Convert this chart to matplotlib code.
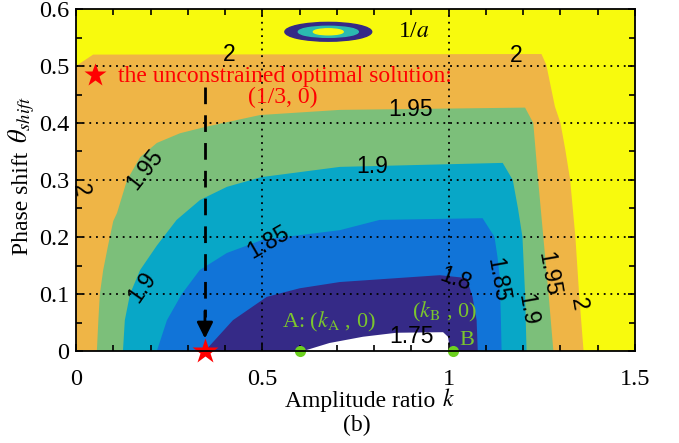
import matplotlib
matplotlib.use('Agg')
import matplotlib.pyplot as plt
from matplotlib.patches import Ellipse
from matplotlib.ticker import MultipleLocator

plt.rcParams['font.family'] = ['Liberation Serif', 'DejaVu Serif']
plt.rcParams['mathtext.fontset'] = 'stix'

# ---------------- data ----------------
levels = [2.0, 1.95, 1.9, 1.85, 1.8, 1.75]
band_colors = ['#EFB546', '#7CBF7A', '#08A7C7', '#1174D8', '#352A87', '#FFFFFF']
bg_color = '#F8FA0D'

# boundaries of the region where the function is below each level
b200_x = [0, 0, 0.046, 1.249, 1.262, 1.285, 1.300, 1.313, 1.326, 1.340, 1.350, 1.362]
b200_y = [0, 0.500, 0.520, 0.521, 0.502, 0.429, 0.400, 0.353, 0.300, 0.200, 0.100, 0]
b195_x = [0.056, 0.060, 0.064, 0.073, 0.086, 0.100, 0.110, 0.137, 0.172, 0.217, 0.279,
          0.346, 0.494, 0.708, 1.205, 1.227, 1.240, 1.254, 1.268, 1.281]
b195_y = [0, 0.054, 0.100, 0.142, 0.185, 0.228, 0.242, 0.300, 0.340, 0.365, 0.382,
          0.393, 0.414, 0.423, 0.427, 0.400, 0.300, 0.200, 0.100, 0]
b190_x = [0.126, 0.131, 0.145, 0.172, 0.217, 0.270, 0.333, 0.405, 0.497, 0.708, 1.145,
          1.172, 1.186, 1.198, 1.205, 1.209]
b190_y = [0, 0.054, 0.100, 0.142, 0.185, 0.230, 0.265, 0.288, 0.305, 0.323, 0.330,
          0.300, 0.250, 0.200, 0.100, 0]
b185_x = [0.217, 0.244, 0.284, 0.332, 0.405, 0.500, 0.708, 0.815, 1.091, 1.123, 1.131,
          1.137, 1.140, 1.142]
b185_y = [0, 0.054, 0.100, 0.142, 0.172, 0.195, 0.212, 0.230, 0.233, 0.200, 0.165,
          0.130, 0.060, 0]
b180_x = [0.346, 0.421, 0.512, 0.600, 0.708, 0.976, 1.048, 1.064, 1.075, 1.078]
b180_y = [0, 0.054, 0.095, 0.110, 0.121, 0.133, 0.128, 0.095, 0.054, 0]
b175_x = [0.600, 0.620, 0.680, 0.770, 0.860, 0.985, 0.998, 1.003, 1.016]
b175_y = [0, 0.002, 0.014, 0.025, 0.032, 0.033, 0.025, 0.005, 0]
bounds_x = [b200_x, b195_x, b190_x, b185_x, b180_x, b175_x]
bounds_y = [b200_y, b195_y, b190_y, b185_y, b180_y, b175_y]

# contour labels
lab_text = ['2', '2', '2', '1.95', '1.95', '1.9', '1.9', '1.85', '1.8', '1.85', '1.9',
            '1.95', '2', '1.75']
lab_x = [0.411, 1.181, 0.011, 0.185, 0.897, 0.795, 0.177, 0.516, 1.018, 1.130, 1.210,
         1.267, 1.348, 0.900]
lab_y = [0.521, 0.519, 0.282, 0.318, 0.423, 0.323, 0.112, 0.191, 0.125, 0.125, 0.072,
         0.135, 0.082, 0.025]
lab_rot = [0, 0, -80, 52, 0, 0, 55, 30, -20, -80, -80, -80, -80, 0]

opt_point = (0.346, 0.0)
A_point = (0.600, 0.0)
B_point = (1.012, 0.0)

x_major = [0, 0.5, 1, 1.5]
x_major_labels = ['0', '0.5', '1', '1.5']
y_major = [0, 0.1, 0.2, 0.3, 0.4, 0.5, 0.6]
y_major_labels = ['0', '0.1', '0.2', '0.3', '0.4', '0.5', '0.6']

# ---------------- figure ----------------
fig = plt.figure(figsize=(6.79, 4.43), dpi=100)
ax = fig.add_axes([76 / 679, 92 / 443, 559 / 679, 342 / 443])
ax.set_facecolor(bg_color)
ax.set_xlim(0, 1.5)
ax.set_ylim(0, 0.6)

for bx, by, c in zip(bounds_x, bounds_y, band_colors):
    ax.fill(bx, by, color=c, lw=0, zorder=1)

# grid (dotted)
for xv in x_major[1:-1]:
    ax.axvline(xv, color='k', lw=1.3, ls=(0, (1, 2.7)), zorder=3)
for yv in y_major[1:-1]:
    ax.axhline(yv, color='k', lw=1.3, ls=(0, (1, 2.7)), zorder=3)

# contour labels
for t, x, y, r in zip(lab_text, lab_x, lab_y, lab_rot):
    ax.text(x, y, t, fontsize=16.5, family='Liberation Sans', rotation=r,
            rotation_mode='anchor', ha='center', va='center', zorder=5)

# 1/a decoration
ell_cx, ell_cy = 0.677, 0.560
ax.add_patch(Ellipse((ell_cx, ell_cy), 0.233, 0.033, color='#352A87', zorder=4))
ax.add_patch(Ellipse((ell_cx, ell_cy), 0.161, 0.0193, color='#2BBBB0', zorder=4))
ax.add_patch(Ellipse((ell_cx, ell_cy), 0.080, 0.0105, color='#F8FA0D', zorder=4))
ax.text(0.863, 0.560, r'1/$a$', fontsize=17, ha='left', va='center', zorder=5)

# optimal solution legend + marker
ax.plot([0.051], [0.484], marker='*', color='#FF0000', ms=17, mec='none', zorder=6)
ax.text(0.113, 0.482, 'the unconstrained optimal solution:', color='#FF0000',
        fontsize=17, ha='left', va='center', zorder=6)
ax.text(0.555, 0.444, '(1/3, 0)', color='#FF0000', fontsize=17, ha='center',
        va='center', zorder=6)

# dashed arrow
ax.plot([opt_point[0], opt_point[0]], [0.463, 0.06], color='k', lw=2,
        ls=(0, (6, 4)), zorder=6)
ax.annotate('', xy=(opt_point[0], 0.022), xytext=(opt_point[0], 0.07),
            arrowprops=dict(arrowstyle='-|>', color='k', lw=2, mutation_scale=24,
                            shrinkA=0, shrinkB=0), zorder=6)
ax.plot([opt_point[0]], [opt_point[1]], marker='*', color='#FF0000', ms=19,
        mec='none', zorder=7, clip_on=False)

# A, B points
green = '#6CD11F'
tgreen = '#7BC62D'
ax.plot([A_point[0], B_point[0]], [A_point[1], B_point[1]], 'o', color=green,
        ms=8, mec='none', zorder=7, clip_on=False)
ax.text(0.552, 0.051, r'A: ($k_{\mathrm{A}}$ , 0)', color=tgreen, fontsize=16,
        ha='left', va='center', zorder=6)
ax.text(0.901, 0.068, r'($k_{\mathrm{B}}$ , 0)', color=tgreen, fontsize=16,
        ha='left', va='center', zorder=6)
ax.text(1.030, 0.019, 'B', color=tgreen, fontsize=16, ha='left', va='center', zorder=6)

# ticks
ax.set_xticks(x_major)
ax.set_xticklabels(x_major_labels)
ax.set_yticks(y_major)
ax.set_yticklabels(y_major_labels)
ax.xaxis.set_minor_locator(MultipleLocator(0.1))
ax.yaxis.set_minor_locator(MultipleLocator(0.05))
ax.tick_params(which='both', direction='in', top=True, right=True, width=1.2,
               labelsize=17.5)
ax.tick_params(which='major', length=5)
ax.tick_params(which='minor', length=4)
ax.tick_params(axis='x', pad=13)
ax.tick_params(axis='y', pad=5)
for s in ax.spines.values():
    s.set_linewidth(1.3)
    s.set_zorder(8)

fig.text(285 / 679, 1 - 402 / 443, 'Amplitude ratio', fontsize=17,
         ha='left', va='center')
fig.text(448 / 679, 1 - 400 / 443, r'$k$', fontsize=17, ha='center', va='center')
fig.text(357 / 679, 1 - 425 / 443, '(b)', fontsize=17, ha='center', va='center')
fig.text(22 / 679, 1 - 203 / 443, 'Phase shift', fontsize=17,
         ha='center', va='center', rotation=90)
fig.text(22 / 679, 1 - 120 / 443, r'$\theta_{shift}$', fontsize=19,
         ha='center', va='center', rotation=90)

fig.savefig('out.png', dpi=100)
